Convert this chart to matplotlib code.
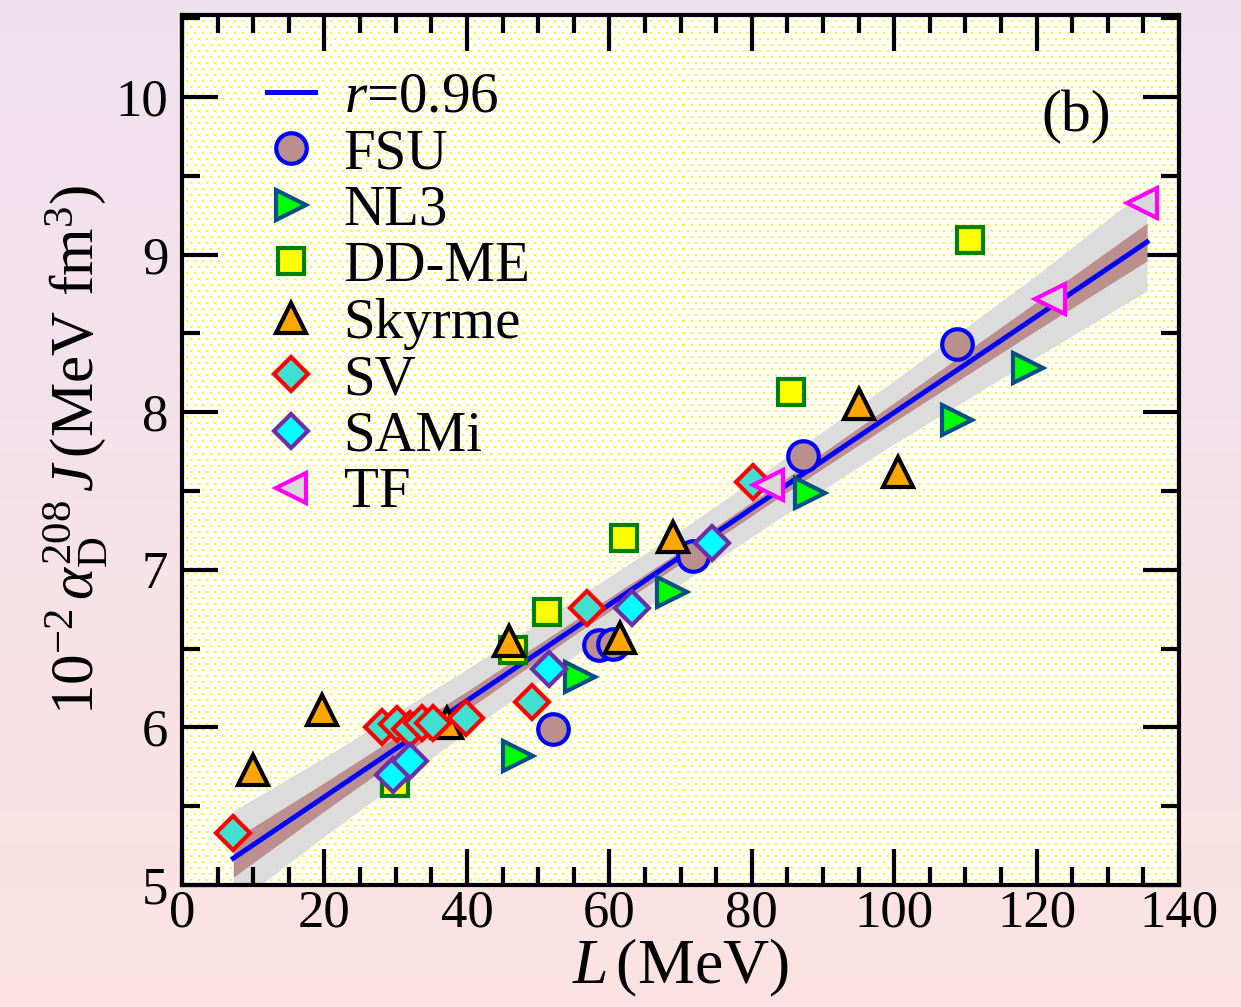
import numpy as np
import matplotlib
matplotlib.use('Agg')
import matplotlib.pyplot as plt
from matplotlib.lines import Line2D
from matplotlib.ticker import MultipleLocator

# Values: L (MeV) and 10^-2 alpha_D J (MeV fm^3)
fsu_L = [52.1, 58.6, 60.5, 71.8, 87.2, 108.8]
fsu_J = [5.99, 6.52, 6.53, 7.09, 7.72, 8.43]

nl3_L = [47.2, 55.9, 68.8, 88.2, 108.8, 118.8]
nl3_J = [5.82, 6.32, 6.86, 7.49, 7.95, 8.28]

ddme_L = [29.9, 46.5, 51.2, 62.1, 85.5, 110.7]
ddme_J = [5.65, 6.49, 6.73, 7.20, 8.13, 9.09]

skyrme_L = [10.0, 19.7, 37.2, 45.9, 61.5, 69.0, 95.1, 100.6]
skyrme_J = [5.73, 6.11, 6.03, 6.55, 6.57, 7.21, 8.05, 7.62]

sv_L = [7.2, 28.1, 30.2, 32.0, 33.7, 35.3, 39.9, 49.1, 56.9, 80.2]
sv_J = [5.33, 6.00, 6.02, 5.99, 6.03, 6.03, 6.06, 6.16, 6.76, 7.56]

sami_L = [29.6, 32.0, 51.5, 63.2, 74.4]
sami_J = [5.70, 5.79, 6.37, 6.76, 7.17]

tf_L = [82.3, 121.9, 134.8]
tf_J = [7.54, 8.72, 9.33]

# linear fit and its bands (read at a few L values)
fit_L = [7.2, 135.5]
fit_J = [5.17, 9.08]
band_L = [7.2, 20, 40, 55, 70, 85, 100, 120, 135.5]
wide_hi = [5.47, 5.81, 6.37, 6.81, 7.25, 7.72, 8.20, 8.87, 9.42]
wide_lo = [4.87, 5.31, 5.97, 6.45, 6.91, 7.36, 7.80, 8.35, 8.77]
narrow_hi = [5.29, 5.65, 6.23, 6.675, 7.12, 7.585, 8.06, 8.70, 9.20]
narrow_lo = [5.05, 5.47, 6.11, 6.585, 7.04, 7.495, 7.94, 8.52, 8.96]

plt.rcParams['font.family'] = 'Liberation Serif'
plt.rcParams['mathtext.fontset'] = 'custom'
plt.rcParams['mathtext.rm'] = 'Liberation Serif'
plt.rcParams['mathtext.it'] = 'Liberation Serif:italic'
plt.rcParams['mathtext.bf'] = 'Liberation Serif:bold'

fig = plt.figure(figsize=(12.41, 10.07), dpi=100)

# pinkish vertical gradient behind everything
bgax = fig.add_axes([0, 0, 1, 1], zorder=-2)
top = np.array([0.94, 0.89, 0.94])
bot = np.array([0.99, 0.89, 0.89])
t = np.linspace(0, 1, 256)[:, None]
grad = (top * (1 - t) + bot * t)[:, None, :]
bgax.imshow(grad, aspect='auto', extent=[0, 1, 0, 1])
bgax.axis('off')

pos = [0.1467, 0.1211, 0.8034, 0.864]

# dotted yellow fill of the plot area
dotax = fig.add_axes(pos, zorder=-1)
H, W = 870, 997
dots = np.ones((H, W, 3))
for i, r in enumerate(range(0, H, 6)):
    off = 4 if i % 2 else 0
    for k in range(2):
        dots[r:r + 2, off + k::8] = (1.0, 1.0, 0.0)
dotax.imshow(dots, aspect='auto', interpolation='nearest', extent=[0, 1, 0, 1])
dotax.axis('off')

ax = fig.add_axes(pos, zorder=1)
ax.patch.set_alpha(0)

ax.fill_between(band_L, wide_lo, wide_hi, color='#dcdcdc', lw=0, zorder=1)
ax.fill_between(band_L, narrow_lo, narrow_hi, color='#bc8f8f', lw=0, zorder=2)
ax.plot(fit_L, fit_J, color='blue', lw=3.6, zorder=3)

mew = 3
styles = [
    dict(marker='o', ms=22, mfc='#bc8f8f', mec='blue'),
    dict(marker='>', ms=22, mfc='#00ff00', mec='#044f86'),
    dict(marker='s', ms=19, mfc='yellow', mec='green'),
    dict(marker='^', ms=22, mfc='orange', mec='black'),
    dict(marker='D', ms=17, mfc='#40e0d0', mec='red'),
    dict(marker='D', ms=17, mfc='cyan', mec='#6f2da8'),
    dict(marker='<', ms=22, mfc='#d9d9d9', mec='magenta'),
]
series = [(fsu_L, fsu_J), (nl3_L, nl3_J), (ddme_L, ddme_J), (skyrme_L, skyrme_J),
          (sv_L, sv_J), (sami_L, sami_J), (tf_L, tf_J)]
for (xs, ys), st in zip(series, styles):
    ax.plot(xs, ys, ls='none', mew=mew, zorder=4, **st)

handles = [Line2D([], [], color='blue', lw=3.6)]
handles += [Line2D([], [], ls='none', mew=mew, **st) for st in styles]
labels = [r'$r$=0.96', 'FSU', 'NL3', 'DD-ME', 'Skyrme', 'SV', 'SAMi', 'TF']
ax.legend(handles, labels, loc='upper left', bbox_to_anchor=(0.085, 0.935),
          frameon=False, fontsize=41, handlelength=0.85, handletextpad=0.5,
          labelspacing=0.08, borderpad=0, borderaxespad=0)

ax.text(125.5, 9.87, '(b)', fontsize=43, ha='center', va='center')

ax.set_xlim(0, 140)
ax.set_ylim(5, 10.52)
ax.xaxis.set_major_locator(MultipleLocator(20))
ax.xaxis.set_minor_locator(MultipleLocator(5))
ax.yaxis.set_major_locator(MultipleLocator(1))
ax.yaxis.set_minor_locator(MultipleLocator(0.5))
ax.tick_params(which='both', direction='in', top=True, right=True, width=3,
               labelsize=38)
ax.tick_params(which='major', length=26)
ax.tick_params(which='minor', length=13)
ax.tick_params(axis='x', pad=3)
ax.tick_params(axis='y', pad=10)
for s in ax.spines.values():
    s.set_linewidth(3)

ax.set_xlabel(r'$L\,$(MeV)', fontsize=46, labelpad=0)
ax.set_ylabel(r'$10^{-2}\,\alpha_{\mathrm{D}}^{208}\,J\,$(MeV fm$^3$)', fontsize=44,
              labelpad=4)

fig.savefig('out.png', dpi=100)
